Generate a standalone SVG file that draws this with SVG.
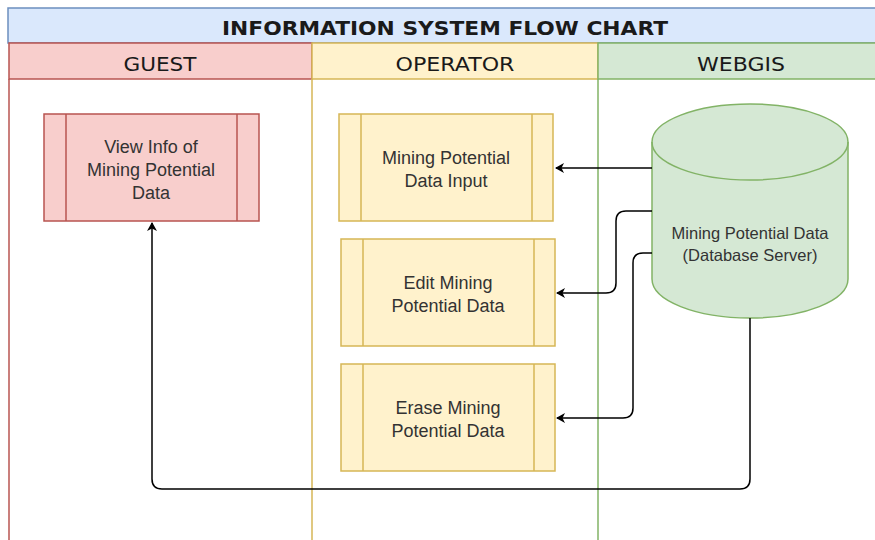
<svg xmlns="http://www.w3.org/2000/svg" width="875" height="540" viewBox="0 0 875 540">
<defs>
<marker id="arr" markerWidth="10" markerHeight="10" refX="8" refY="5" orient="auto" markerUnits="userSpaceOnUse">
<path d="M0,0 L9,5 L0,10 L2.5,5 Z" fill="#000"/>
</marker>
<style>
.ttl{font-family:"DejaVu Sans",Verdana,sans-serif;font-weight:bold;font-size:19px;fill:#1a1a1a;text-anchor:middle}
.hdr{font-family:"DejaVu Sans",Verdana,sans-serif;font-size:19px;fill:#1a1a1a;text-anchor:middle}
.lbl{font-family:"Liberation Sans",Arial,sans-serif;font-size:18px;fill:#333;text-anchor:middle}
.db{font-family:"Liberation Sans",Arial,sans-serif;font-size:16.5px;fill:#333;text-anchor:middle}
.red{fill:#f8cecc;stroke:#b85450;stroke-width:1.5}
.yel{fill:#fff2cc;stroke:#d6b656;stroke-width:1.5}
.grn{fill:#d5e8d4;stroke:#82b366;stroke-width:1.5}
.conn{fill:none;stroke:#000;stroke-width:1.5}
</style>
</defs>
<rect width="875" height="540" fill="#fff"/>
<g id="pool">
<rect x="8" y="8" width="870" height="35" fill="#dae8fc" stroke="#6c8ebf" stroke-width="1.5"/>
<text class="ttl" x="445" y="35" textLength="446" lengthAdjust="spacingAndGlyphs">INFORMATION SYSTEM FLOW CHART</text>
</g>
<g id="lane-guest">
<rect class="red" x="9" y="43" width="303" height="36"/>
<line x1="9" y1="79" x2="9" y2="540" stroke="#b85450" stroke-width="1.5"/>
<text class="hdr" x="160" y="71" textLength="73" lengthAdjust="spacingAndGlyphs">GUEST</text>
</g>
<g id="lane-operator">
<rect class="yel" x="312" y="43" width="286" height="36"/>
<line x1="312" y1="79" x2="312" y2="540" stroke="#d6b656" stroke-width="1.5"/>
<text class="hdr" x="455" y="71" textLength="119" lengthAdjust="spacingAndGlyphs">OPERATOR</text>
</g>
<g id="lane-webgis">
<rect class="grn" x="598" y="43" width="280" height="36"/>
<line x1="598" y1="79" x2="598" y2="540" stroke="#82b366" stroke-width="1.5"/>
<text class="hdr" x="741" y="71" textLength="88" lengthAdjust="spacingAndGlyphs">WEBGIS</text>
</g>
<g id="view-info">
<rect class="red" x="44" y="114" width="215" height="107"/>
<line x1="66" y1="114" x2="66" y2="221" stroke="#b85450" stroke-width="1.5"/>
<line x1="237" y1="114" x2="237" y2="221" stroke="#b85450" stroke-width="1.5"/>
<text class="lbl" x="151" y="153">View Info of</text>
<text class="lbl" x="151" y="176">Mining Potential</text>
<text class="lbl" x="151" y="199">Data</text>
</g>
<g id="data-input">
<rect class="yel" x="339" y="114" width="214" height="107"/>
<line x1="361" y1="114" x2="361" y2="221" stroke="#d6b656" stroke-width="1.5"/>
<line x1="532" y1="114" x2="532" y2="221" stroke="#d6b656" stroke-width="1.5"/>
<text class="lbl" x="446" y="164">Mining Potential</text>
<text class="lbl" x="446" y="187">Data Input</text>
</g>
<g id="edit-data">
<rect class="yel" x="341" y="239" width="214" height="107"/>
<line x1="363" y1="239" x2="363" y2="346" stroke="#d6b656" stroke-width="1.5"/>
<line x1="534" y1="239" x2="534" y2="346" stroke="#d6b656" stroke-width="1.5"/>
<text class="lbl" x="448" y="289">Edit Mining</text>
<text class="lbl" x="448" y="312">Potential Data</text>
</g>
<g id="erase-data">
<rect class="yel" x="341" y="364" width="214" height="107"/>
<line x1="363" y1="364" x2="363" y2="471" stroke="#d6b656" stroke-width="1.5"/>
<line x1="534" y1="364" x2="534" y2="471" stroke="#d6b656" stroke-width="1.5"/>
<text class="lbl" x="448" y="414">Erase Mining</text>
<text class="lbl" x="448" y="437">Potential Data</text>
</g>
<g id="database">
<path class="grn" d="M652,142 A98,38 0 0 1 848,142 L848,279 A98,39 0 0 1 652,279 Z"/>
<path d="M652,142 A98,38 0 0 0 848,142" fill="none" stroke="#82b366" stroke-width="1.5"/>
<text class="db" x="750" y="239">Mining Potential Data</text>
<text class="db" x="750" y="261">(Database Server)</text>
</g>
<g id="connectors">
<path class="conn" d="M652,168 L556,168" marker-end="url(#arr)"/>
<path class="conn" d="M652,211 L626,211 Q616,211 616,221 L616,283 Q616,293 606,293 L557,293" marker-end="url(#arr)"/>
<path class="conn" d="M652,253 L643,253 Q633,253 633,263 L633,408 Q633,418 623,418 L557,418" marker-end="url(#arr)"/>
<path class="conn" d="M750,318 L750,479 Q750,489 740,489 L162,489 Q152,489 152,479 L152,223" marker-end="url(#arr)"/>
</g>
</svg>
